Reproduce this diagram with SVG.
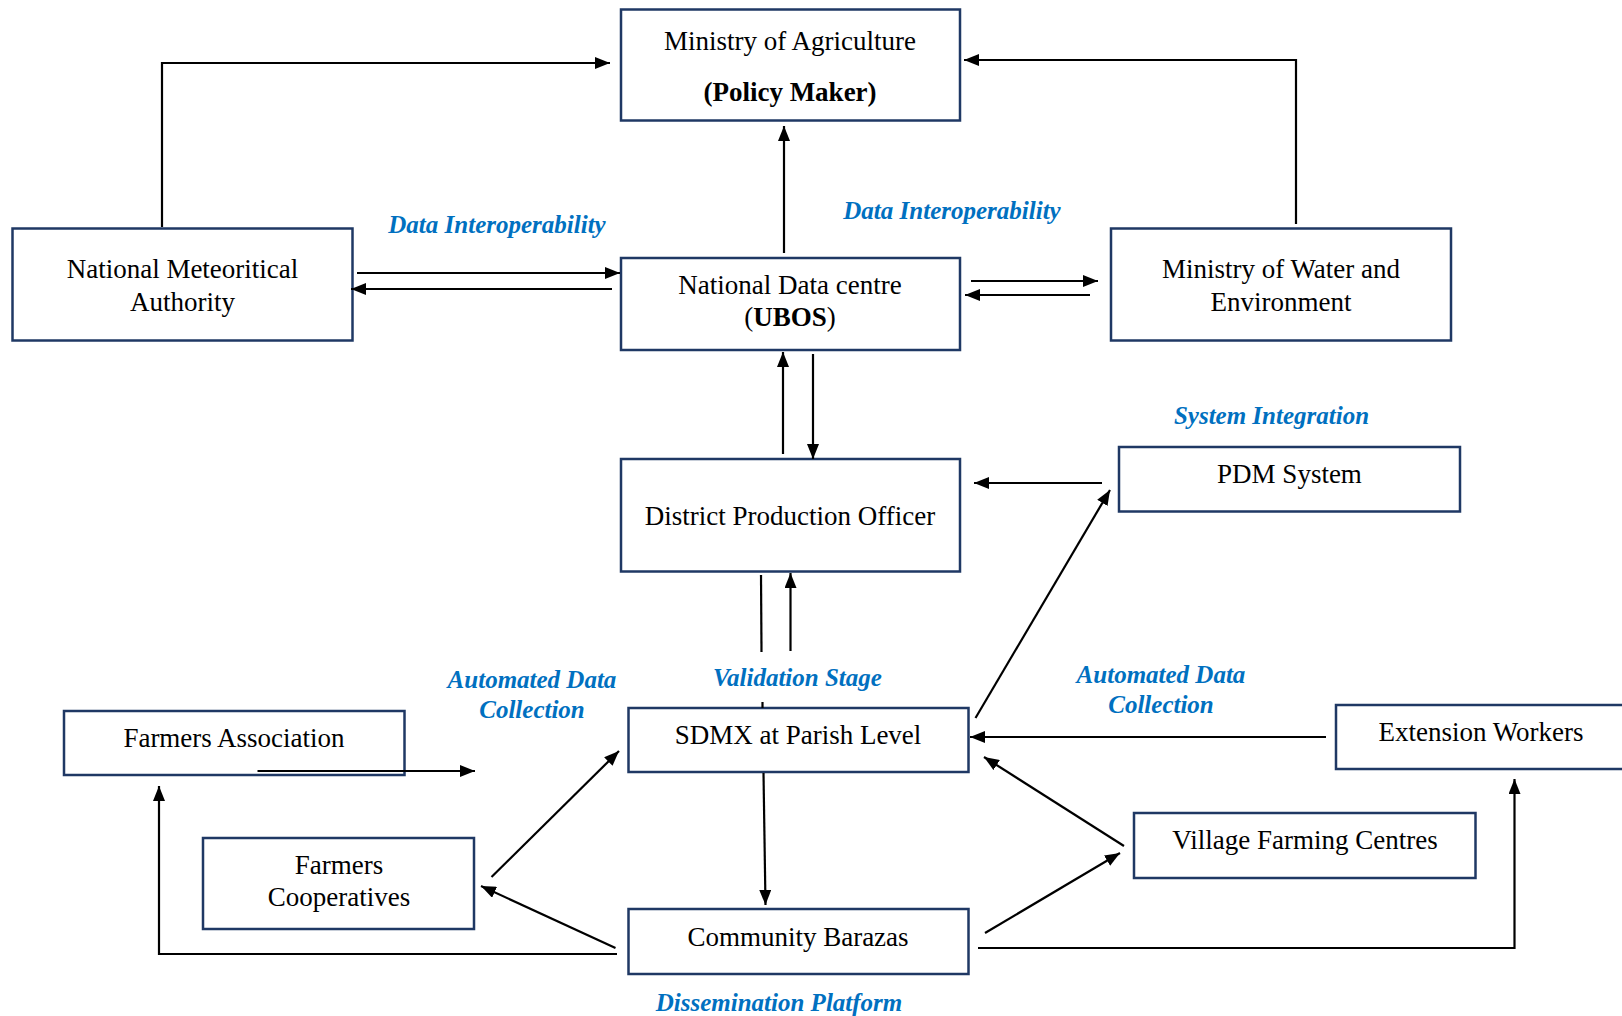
<svg xmlns="http://www.w3.org/2000/svg" width="1622" height="1016" viewBox="0 0 1622 1016">
<style>
.box{fill:#fff;stroke:#1F3864;stroke-width:2.5}
.t{font-family:"Liberation Serif","Times New Roman",serif;font-size:27px;fill:#000;text-anchor:middle}
.b{font-weight:bold}
.lbl{font-family:"Liberation Serif","Times New Roman",serif;font-size:25px;font-weight:bold;font-style:italic;fill:#0070C0;text-anchor:middle}
.c{fill:none;stroke:#000;stroke-width:2.2}
.a{marker-end:url(#ah)}
</style>
<defs>
<marker id="ah" markerUnits="userSpaceOnUse" markerWidth="15" markerHeight="12" refX="15" refY="6" orient="auto">
<path d="M0,0 L15,6 L0,12 z" fill="#000"/>
</marker>
</defs>
<rect width="1622" height="1016" fill="#fff"/>
<g id="ministry-agriculture">
<rect class="box" x="621" y="9.5" width="339" height="111"/>
<text class="t" x="790" y="50">Ministry of Agriculture</text>
<text class="t b" x="790" y="101">(Policy Maker)</text>
</g>
<g id="nma">
<rect class="box" x="12.5" y="228.5" width="340" height="112"/>
<text class="t" x="182.5" y="278">National Meteoritical</text>
<text class="t" x="182.5" y="311">Authority</text>
</g>
<g id="ndc">
<rect class="box" x="621" y="258" width="339" height="92"/>
<text class="t" x="790" y="294">National Data centre</text>
<text class="t" x="790" y="326">(<tspan class="b">UBOS</tspan>)</text>
</g>
<g id="mwe">
<rect class="box" x="1111" y="228.5" width="340" height="112"/>
<text class="t" x="1281" y="278">Ministry of Water and</text>
<text class="t" x="1281" y="311">Environment</text>
</g>
<g id="dpo">
<rect class="box" x="621" y="459" width="339" height="112.5"/>
<text class="t" x="790" y="525">District Production Officer</text>
</g>
<g id="pdm">
<rect class="box" x="1119" y="447" width="341" height="64.5"/>
<text class="t" x="1289.5" y="483">PDM System</text>
</g>
<g id="sdmx">
<rect class="box" x="628.5" y="708" width="340" height="64"/>
<text class="t" x="798" y="744">SDMX at Parish Level</text>
</g>
<g id="farmers-association">
<rect class="box" x="64" y="711" width="340.5" height="64"/>
<text class="t" x="234" y="747">Farmers Association</text>
</g>
<g id="extension-workers">
<rect class="box" x="1336" y="705" width="300" height="64"/>
<text class="t" x="1481" y="741">Extension Workers</text>
</g>
<g id="farmers-cooperatives">
<rect class="box" x="203" y="838" width="271" height="91"/>
<text class="t" x="339" y="874">Farmers</text>
<text class="t" x="339" y="906">Cooperatives</text>
</g>
<g id="village-farming-centres">
<rect class="box" x="1134" y="813" width="341.5" height="65"/>
<text class="t" x="1305" y="849">Village Farming Centres</text>
</g>
<g id="community-barazas">
<rect class="box" x="628.5" y="909" width="340" height="65"/>
<text class="t" x="798" y="946">Community Barazas</text>
</g>
<g id="connectors">
<polyline class="c a" points="162,227 162,63 610,63"/>
<polyline class="c a" points="1296,224 1296,60 964,60"/>
<line class="c a" x1="784" y1="253" x2="784" y2="126"/>
<line class="c a" x1="357" y1="273" x2="620" y2="273"/>
<line class="c a" x1="612" y1="289" x2="351" y2="289"/>
<line class="c a" x1="971" y1="281" x2="1098" y2="281"/>
<line class="c a" x1="1090" y1="295" x2="965" y2="295"/>
<line class="c a" x1="783" y1="454" x2="783" y2="352"/>
<line class="c a" x1="813" y1="354" x2="813" y2="459"/>
<line class="c a" x1="1102" y1="483" x2="974" y2="483"/>
<line class="c" x1="761" y1="575" x2="761.5" y2="652"/>
<line class="c" x1="762.5" y1="702" x2="762.5" y2="708"/>
<line class="c a" x1="790.5" y1="651" x2="790.5" y2="573"/>
<line class="c a" x1="975.5" y1="718" x2="1110" y2="490"/>
<line class="c a" x1="1326" y1="737" x2="970" y2="737"/>
<line class="c a" x1="1124" y1="846" x2="984" y2="757"/>
<line class="c a" x1="985" y1="933" x2="1120" y2="853"/>
<polyline class="c a" points="978,948 1514.5,948 1514.5,779"/>
<line class="c a" x1="763.5" y1="773" x2="765.5" y2="905"/>
<line class="c a" x1="491.5" y1="877" x2="619" y2="751"/>
<line class="c a" x1="615.5" y1="948" x2="481" y2="886"/>
<polyline class="c a" points="617,954 159,954 159,786"/>
<line class="c a" x1="257.5" y1="771" x2="475" y2="771"/>
</g>
<g id="labels">
<text class="lbl" x="497" y="233">Data Interoperability</text>
<text class="lbl" x="952" y="219">Data Interoperability</text>
<text class="lbl" x="1271.5" y="424">System Integration</text>
<text class="lbl" x="532" y="688">Automated Data</text>
<text class="lbl" x="532" y="718">Collection</text>
<text class="lbl" x="797.5" y="686">Validation Stage</text>
<text class="lbl" x="1161" y="683">Automated Data</text>
<text class="lbl" x="1161" y="713">Collection</text>
<text class="lbl" x="779" y="1011">Dissemination Platform</text>
</g>
</svg>
